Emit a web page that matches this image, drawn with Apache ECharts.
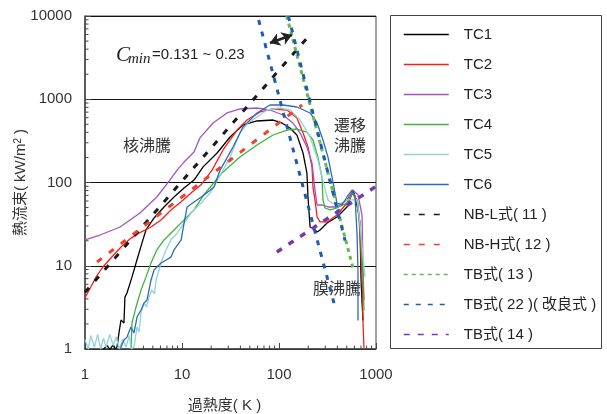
<!DOCTYPE html>
<html><head><meta charset="utf-8">
<script src="https://cdn.jsdelivr.net/npm/echarts@6/dist/echarts.min.js"></script>
<style>html,body{margin:0;padding:0;background:#fff}#c{width:607px;height:414px}</style>
</head><body><div id="c"></div>
<script>
// ---- tick values ----
const xTickLabels = [1, 10, 100, 1000];
const yTickLabels = [1, 10, 100, 1000, 10000];
const xMinorTicks = [2,3,4,5,6,7,8,9,20,30,40,50,60,70,80,90,200,300,400,500,600,700,800,900];
const yMinorTicks = [2,3,4,5,6,7,8,9,20,30,40,50,60,70,80,90,200,300,400,500,600,700,800,900,2000,3000,4000,5000,6000,7000,8000,9000];

// ---- measured curves [superheat K, heat flux kW/m2] ----
const TC1 = [[1.55,1.0],[1.7,1.1],[1.8,0.98],[1.95,1.12],[2.05,1.0],[2.14,1.06],[2.24,1.56],[2.35,2.23],[2.52,2.05],[2.58,4.2],[2.71,4.7],[3.05,7.3],[3.36,10.8],[3.87,18.8],[4.25,26.9],[5.15,37.5],[6.52,50.8],[8.27,67],[10.5,86],[13.3,107],[16.5,154],[23,226],[31.3,352],[42.5,491],[59.3,548],[86.8,563],[107,519],[130,452],[153,372],[177,226],[194,130],[199,67],[209,29.2],[224,28.4],[247,25.4],[265,26.9],[313,32.6],[396,38.5],[502,50.8],[566,74.8],[580,81.3],[608,67],[652,46.8],[684,32.6],[700,7.3],[718,3.6],[735,2.2]];
const TC2 = [[1.0,4.1],[1.15,5.6],[1.30,7.3],[1.50,9.4],[1.85,12.4],[2.35,16.8],[2.98,21.5],[3.78,25.4],[4.79,29.2],[6.08,35.5],[7.7,46.8],[9.8,58.6],[12.4,74.8],[15.7,93.7],[20.4,141],[26.5,246],[36.9,427],[46.8,563],[63.7,703],[86.8,764],[121,743],[153,596],[177,393],[199,267],[219,154],[224,88],[235,61.7],[247,38.5],[265,33.6],[313,33.6],[396,40.7],[502,56.7],[566,74.8],[637,61.7],[668,38.5],[718,7.3],[735,2.05],[752,1.0]];
const TC3 = [[1.0,20.4],[1.43,23.4],[2.3,29.2],[3.69,43],[5.5,67],[7.5,107],[8.9,141],[10.5,176],[13.3,232],[15.3,343],[20.9,519],[29.1,684],[39.6,764],[59.3,785],[80.7,743],[110,647],[139,519],[165,393],[194,267],[219,171],[235,81],[247,53.7],[277,53.7],[320,50.8],[396,50.8],[502,61.7],[580,81],[652,70.8],[718,40.7],[735,8.9],[752,3.9]];
const TC4 = [[2.98,1.0],[3.05,2.05],[3.36,3.2],[3.78,5.1],[4.25,7.3],[4.79,10.8],[5.5,15.5],[6.52,20.4],[8.27,26.9],[10.5,35.5],[13.3,46.8],[16.9,72],[21.4,100],[26.5,134],[39.6,202],[59.3,282],[86.8,372],[121,427],[153,439],[194,404],[224,324],[252,202],[277,116],[284,61.7],[298,49.4],[336,46.8],[396,49.4],[502,56.7],[580,74.8],[652,56.7],[700,20.4],[735,7.3],[752,2.9]];
const TC5 = [[1.0,1.3],[1.08,1.0],[1.15,1.45],[1.25,1.05],[1.35,1.5],[1.45,1.0],[1.55,1.35],[1.65,1.05],[1.8,1.5],[1.95,1.1],[2.1,1.4],[2.25,1.0],[2.45,1.3],[2.65,1.05],[2.85,1.45],[3.0,1.0],[3.2,1.06],[3.44,1.84],[3.6,1.6],[3.78,2.7],[4.06,3.57],[4.3,3.2],[4.57,4.2],[4.9,5.1],[5.2,4.6],[5.4,6.7],[5.8,8.9],[6.2,11.7],[6.84,15.5],[7.7,20.4],[8.9,24.7],[10.5,32.6],[12.4,43],[15.7,56.7],[19.9,76.9],[31.3,202],[39.6,393],[47.9,519],[59.3,612],[75.2,743],[102,785],[130,743],[165,563],[209,352],[252,186],[291,93],[320,61.7],[352,56.7],[396,53.7],[502,61.7],[637,61.7],[684,32.6],[735,12.8],[771,7.3]];
const TC6 = [[2.3,0.9],[2.35,1.06],[2.52,1.28],[2.71,1.39],[2.98,1.84],[3.2,1.56],[3.44,2.42],[3.78,2.94],[4.06,3.57],[4.36,3.88],[4.79,6.7],[5.15,8.9],[6.08,10.8],[7.7,12.7],[8.27,15.5],[9.8,20.4],[10.5,32.6],[11.3,50.8],[13.3,58.3],[16.9,70.8],[21.4,88.3],[24.7,141],[33.6,267],[42.5,464],[59.3,684],[80.7,853],[110,853],[153,807],[209,684],[247,519],[284,324],[320,202],[352,116],[378,74.8],[396,56.7],[446,53.7],[502,67],[566,81],[608,67],[637,24.7],[652,8.9],[652,2.2]];

// ---- correlation lines ----
const NBL = [[1,4.8],[195,5450]];
const NBH = [[1.33,11.1],[173,853]];
const TB13 = [[120,10000],[585,9]];
const TB22a = [[61.7,8950],[378,3.2]];
const TB22b = [[125,10000],[480,20]];
const TB14 = [[95,14.6],[1000,90]];
const arrowCoords = [[80.7,4740],[136,5920]];

const legendNames = ['TC1','TC2','TC3','TC4','TC5','TC6','NB-L式( 11 )','NB-H式( 12 )','TB式( 13 )','TB式( 22 )( 改良式 )','TB式( 14 )'];

const FONT = "'Liberation Sans','Noto Sans CJK JP',sans-serif";
const JP = "'Noto Sans CJK JP',sans-serif";
const axisCol = '#444';

function solid(name, data, color, w) {
  return {name, type:'line', data, symbol:'none', showSymbol:false, silent:true,
    lineStyle:{color, width:w||1.3}, itemStyle:{color}, emphasis:{disabled:true}};
}
function dashed(name, data, color, w, dash) {
  return {name, type:'line', data, symbol:'none', showSymbol:false, silent:true,
    lineStyle:{color, width:w, type:dash, cap:'butt'}, itemStyle:{color}, emphasis:{disabled:true}};
}
function minorTickSeries(values, isX) {
  return {type:'custom', silent:true, clip:false, z:3,
    data: values.map(v => isX ? [v, 1] : [1, v]),
    renderItem: function(params, api) {
      const p = api.coord([api.value(0), api.value(1)]);
      const len = 3.5;
      return {type:'line', shape: isX ? {x1:p[0], y1:p[1], x2:p[0], y2:p[1]-len}
                                      : {x1:p[0], y1:p[1], x2:p[0]+len, y2:p[1]},
              style:{stroke:axisCol, lineWidth:1}};
    }};
}

const chart = echarts.init(document.getElementById('c'), null, {renderer:'canvas'});
chart.setOption({
  animation:false,
  backgroundColor:'#fff',
  grid:{left:85, right:231, top:16, bottom:65, show:true, borderColor:axisCol, borderWidth:1,
        backgroundColor:'transparent', containLabel:false, outerBoundsMode:'none'},
  xAxis:{type:'log', logBase:10, min:1, max:1000, position:'bottom',
     axisLine:{lineStyle:{color:axisCol, width:1.5}},
     axisTick:{inside:true, length:6, lineStyle:{color:axisCol}},
     axisLabel:{fontSize:15, color:'#333', fontFamily:FONT, margin:18, formatter: v => String(Math.round(v))},
     splitLine:{show:false},
     name:'過熱度( K )', nameLocation:'middle', nameGap:49, nameMoveOverlap:false,
     nameTextStyle:{fontSize:15, color:'#333', fontFamily:FONT, padding:[0,12,0,0]}},
  yAxis:{type:'log', logBase:10, min:1, max:10000, position:'left',
     axisLine:{lineStyle:{color:axisCol, width:1.5}},
     axisTick:{inside:true, length:6, lineStyle:{color:axisCol}},
     axisLabel:{fontSize:15, color:'#333', fontFamily:FONT, margin:13, formatter: v => String(Math.round(v))},
     splitLine:{show:true, lineStyle:{color:'#111', width:1}},
     name:'熱流束( kW/m{sup|2} )', nameLocation:'middle', nameGap:56, nameMoveOverlap:false,
     nameTextStyle:{fontSize:15, color:'#333', fontFamily:FONT,
       rich:{sup:{fontSize:10, color:'#333', fontFamily:FONT, verticalAlign:'top', padding:[0,0,6,0]}}}},
  legend:{
    data:legendNames, orient:'vertical', left:403, top:27, padding:0,
    itemWidth:45, itemHeight:14, itemGap:15, selectedMode:false,
    textStyle:{fontSize:15, color:'#222', fontFamily:FONT, lineHeight:15, padding:[0,0,0,10]},
    lineStyle:{width:1.5},
    itemStyle:{opacity:0}
  },
  graphic:[
    {type:'rect', shape:{x:390.5, y:15.5, width:211, height:333}, style:{fill:'none', stroke:axisCol, lineWidth:1}, silent:true},
    {type:'text', x:116, y:55, style:{text:'C', font:'italic 21px "Liberation Serif",serif', fill:'#222', align:'left', verticalAlign:'middle', textAlign:'left', textVerticalAlign:'middle'}},
    {type:'text', x:128, y:59, style:{text:'min', font:'italic 15px "Liberation Serif",serif', fill:'#222', align:'left', verticalAlign:'middle', textAlign:'left', textVerticalAlign:'middle'}},
    {type:'text', x:152, y:55, style:{text:'=0.131 ~ 0.23', font:'15px "Liberation Sans",sans-serif', fill:'#222', align:'left', verticalAlign:'middle', textAlign:'left', textVerticalAlign:'middle'}},
    {type:'text', x:147, y:145, style:{text:'核沸騰', font:'16px '+JP, fill:'#333', align:'center', verticalAlign:'middle', textAlign:'center', textVerticalAlign:'middle'}},
    {type:'text', x:350, y:125, style:{text:'遷移', font:'16px '+JP, fill:'#333', align:'center', verticalAlign:'middle', textAlign:'center', textVerticalAlign:'middle'}},
    {type:'text', x:350, y:145, style:{text:'沸騰', font:'16px '+JP, fill:'#333', align:'center', verticalAlign:'middle', textAlign:'center', textVerticalAlign:'middle'}},
    {type:'text', x:337, y:288, style:{text:'膜沸騰', font:'16px '+JP, fill:'#333', align:'center', verticalAlign:'middle', textAlign:'center', textVerticalAlign:'middle'}}
  ],
  series:[
    solid('TC1', TC1, '#000000', 1.3),
    solid('TC2', TC2, '#ff1a1a', 1.3),
    solid('TC3', TC3, '#a455bd', 1.3),
    solid('TC4', TC4, '#3cb43c', 1.3),
    solid('TC5', TC5, '#92d2d8', 1.3),
    solid('TC6', TC6, '#2b6cb8', 1.3),
    dashed('NB-L式( 11 )', NBL, '#1a1a1a', 3, [6,9]),
    dashed('NB-H式( 12 )', NBH, '#f04030', 3, [6,9]),
    dashed('TB式( 13 )', TB13, '#62bb4a', 3, [4,4]),
    dashed('TB式( 22 )( 改良式 )', TB22a, '#1f5cb0', 3, [5,7]),
    dashed('TB式( 22 )( 改良式 )', TB22b, '#1f5cb0', 3, [5,7]),
    dashed('TB式( 14 )', TB14, '#7a35b0', 3.5, [6,8]),
    {type:'lines', coordinateSystem:'cartesian2d', silent:true, z:5,
     symbol:['arrow','arrow'], symbolSize:10,
     lineStyle:{color:'#222', width:2.5, opacity:1},
     data:[{coords:arrowCoords}]},
    minorTickSeries(xMinorTicks, true),
    minorTickSeries(yMinorTicks, false)
  ]
});
</script></body></html>
